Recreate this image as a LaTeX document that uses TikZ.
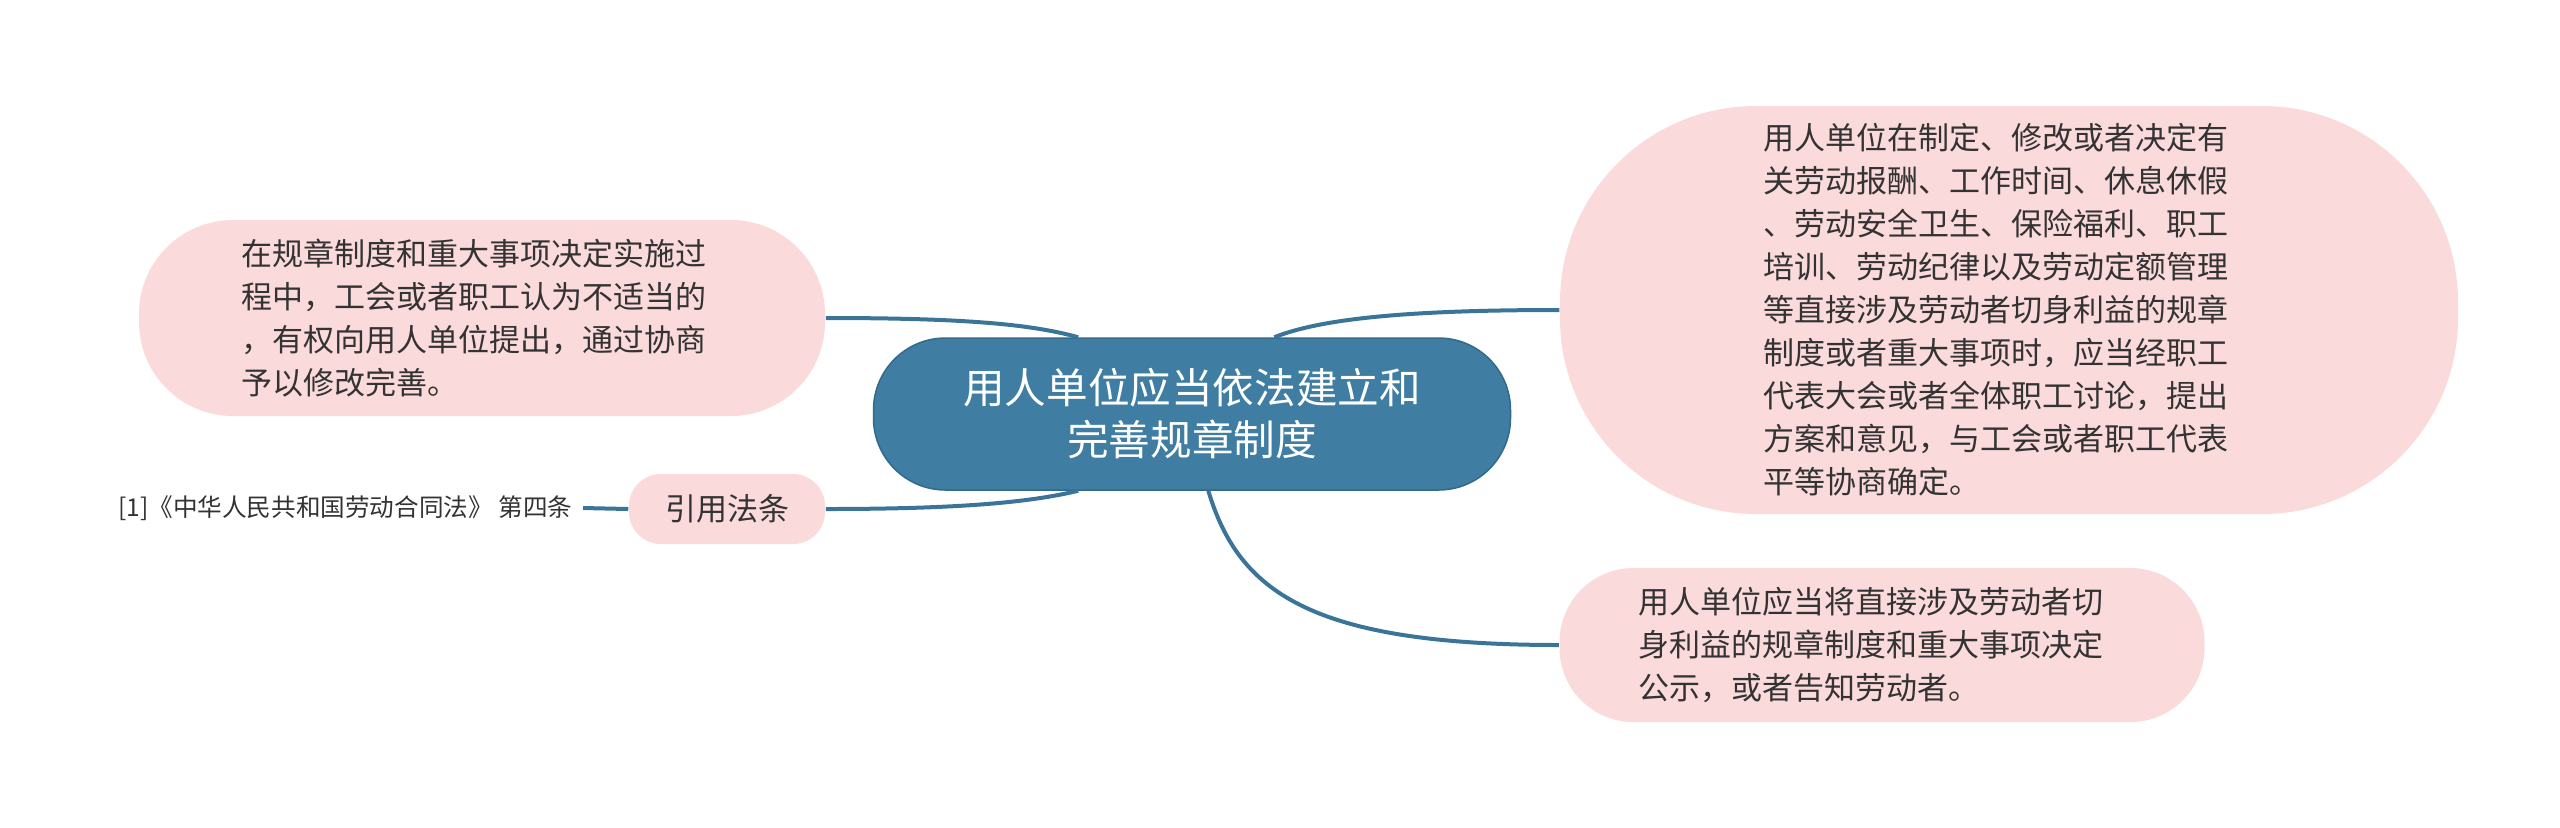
\documentclass[tikz,border=0pt]{standalone}
\usepackage{fontspec}
\newfontfamily\cjk{Noto Sans CJK SC}
\definecolor{mainblue}{RGB}{63,125,162}
\definecolor{mainedge}{RGB}{50,106,140}
\definecolor{linkblue}{RGB}{58,116,153}
\definecolor{leafpink}{RGB}{250,218,218}
\definecolor{leaftext}{RGB}{51,51,51}
\tikzset{
	central topic/.style={draw=mainedge, fill=mainblue, text=white, align=center,
		font=\cjk\fontsize{20.8}{26}\selectfont},
	leaf/.style={fill=leafpink, text=leaftext, align=left,
		font=\cjk\fontsize{15.5}{21.5}\selectfont},
	link/.style={draw=linkblue, line width=2pt}}
\tikzset{every picture/.style={line width=0.75pt}}

\begin{document}
\begin{tikzpicture}[x=0.5pt,y=0.5pt,yscale=-1,xscale=1]
	\useasboundingbox (0,0) rectangle (2560,827);

	%Rounded Rect: central topic
	\node (central) [central topic, rounded corners=36pt, minimum width=318.5pt, minimum height=76pt] at (1192,414) {用人单位应当依法建立和\\完善规章制度};
	%Rounded Rect: left top
	\node (process) [leaf, text width=240.5pt, rounded corners=47pt, minimum width=343pt, minimum height=98pt] at (482,318) {在规章制度和重大事项决定实施过\\程中，工会或者职工认为不适当的\\，有权向用人单位提出，通过协商\\予以修改完善。};
	%Rounded Rect: law reference
	\node (citelabel) [leaf, rounded corners=16pt, minimum width=98pt, minimum height=35pt] at (727,509) {引用法条};
	% Text Node
	\node (citation) [anchor=east, inner sep=5pt, text=leaftext, font=\cjk\fontsize{12.3}{14}\selectfont] at (583,508) {[1]《中华人民共和国劳动合同法》 第四条};
	%Rounded Rect: right top
	\node (procedure) [leaf, text width=245.5pt, rounded corners=98pt, minimum width=449pt, minimum height=204pt] at (2009,310) {用人单位在制定、修改或者决定有\\关劳动报酬、工作时间、休息休假\\、劳动安全卫生、保险福利、职工\\培训、劳动纪律以及劳动定额管理\\等直接涉及劳动者切身利益的规章\\制度或者重大事项时，应当经职工\\代表大会或者全体职工讨论，提出\\方案和意见，与工会或者职工代表\\平等协商确定。};
	%Rounded Rect: right bottom
	\node (publicity) [leaf, text width=243.5pt, rounded corners=37pt, minimum width=322.5pt, minimum height=77pt] at (1882,645) {用人单位应当将直接涉及劳动者切\\身利益的规章制度和重大事项决定\\公示，或者告知劳动者。};

	%Curves
	\draw [link] (process.east) .. controls +(130,0) and +(-50,-14) .. (central.146);
	\draw [link] (central.43) .. controls +(50,-20) and +(-140,0) .. (procedure.west);
	\draw [link] (citelabel.east) .. controls +(130,0) and +(-50,12) .. (central.214);
	\draw [link] (central.282) .. controls +(30,100) and +(-250,0) .. (publicity.west);
	\draw [link] (citation.east) -- (citelabel.west);

\end{tikzpicture}
\end{document}
